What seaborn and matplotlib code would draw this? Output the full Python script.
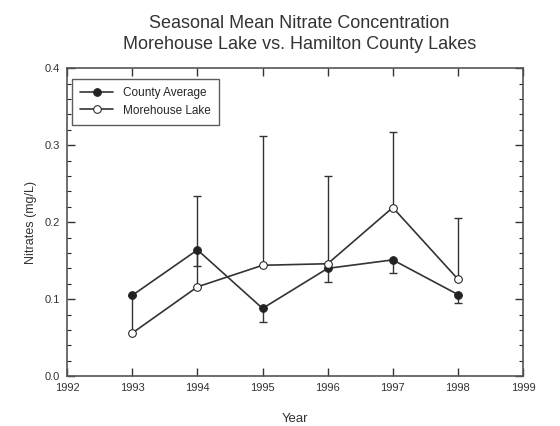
import matplotlib
matplotlib.use("Agg")
import matplotlib.pyplot as plt
import seaborn as sns
import pandas as pd
import numpy as np
from matplotlib.ticker import MultipleLocator

years = [1993, 1994, 1995, 1996, 1997, 1998]
county = [0.105, 0.164, 0.088, 0.140, 0.151, 0.106]
county_low = [0.105, 0.143, 0.070, 0.122, 0.134, 0.095]
morehouse = [0.056, 0.116, 0.144, 0.146, 0.219, 0.126]
morehouse_high = [0.104, 0.234, 0.312, 0.260, 0.317, 0.205]

sns.set_theme(style="ticks")
plt.rcParams['font.family'] = ['Liberation Sans', 'DejaVu Sans']

fig = plt.figure(figsize=(5.6, 4.26), dpi=100)
ax = fig.add_axes([0.12, 0.117, 0.814, 0.723])

df = pd.DataFrame({"Year": years * 2,
                   "Nitrate": county + morehouse,
                   "Series": ["County Average"] * 6 + ["Morehouse Lake"] * 6})

cy = np.array(county)
my = np.array(morehouse)
ax.errorbar(years, cy, yerr=[cy - np.array(county_low), np.zeros(6)], fmt='none',
            ecolor='#333333', elinewidth=1.0, capsize=3, capthick=1.0, zorder=2)
ax.errorbar(years, my, yerr=[np.zeros(6), np.array(morehouse_high) - my], fmt='none',
            ecolor='#333333', elinewidth=1.0, capsize=3, capthick=1.0, zorder=2)

sns.lineplot(data=df[df.Series == "County Average"], x="Year", y="Nitrate", ax=ax,
             color='#333333', marker='o', markersize=5.5, markerfacecolor='#222222',
             markeredgecolor='#222222', linewidth=1.2, label="County Average", zorder=3)
sns.lineplot(data=df[df.Series == "Morehouse Lake"], x="Year", y="Nitrate", ax=ax,
             color='#333333', marker='o', markersize=5.5, markerfacecolor='white',
             markeredgecolor='#222222', linewidth=1.2, label="Morehouse Lake", zorder=4)

ax.set_xlim(1992, 1999)
ax.set_ylim(0.0, 0.4)
ax.xaxis.set_major_locator(MultipleLocator(1))
ax.yaxis.set_major_locator(MultipleLocator(0.1))
ax.yaxis.set_minor_locator(MultipleLocator(0.02))
ax.yaxis.set_major_formatter(matplotlib.ticker.FormatStrFormatter('%.1f'))
ax.tick_params(axis='both', which='major', direction='in', length=6, width=1,
               top=True, right=True, labelsize=8, colors='#333333', pad=5)
ax.tick_params(axis='y', which='minor', direction='in', length=3, width=0.8,
               right=True, left=True)
for s in ax.spines.values():
    s.set_color('#555555')
    s.set_linewidth(1.2)

ax.set_xlabel("Year", fontsize=9.5, color='#333333', labelpad=14)
ax.set_ylabel("Nitrates (mg/L)", fontsize=9, color='#333333', labelpad=6)
fig.suptitle("Seasonal Mean Nitrate Concentration\nMorehouse Lake vs. Hamilton County Lakes",
             fontsize=13, color='#333333', y=0.965, x=0.535, linespacing=1.35)

leg = ax.legend(loc='upper left', bbox_to_anchor=(0.01, 0.965), fontsize=8.5,
                frameon=True, fancybox=False, edgecolor='#333333', handlelength=2.8,
                borderpad=0.7, labelspacing=0.45, borderaxespad=0.0)
leg.get_frame().set_linewidth(1.0)

fig.savefig("out.png", dpi=100, facecolor='white')
